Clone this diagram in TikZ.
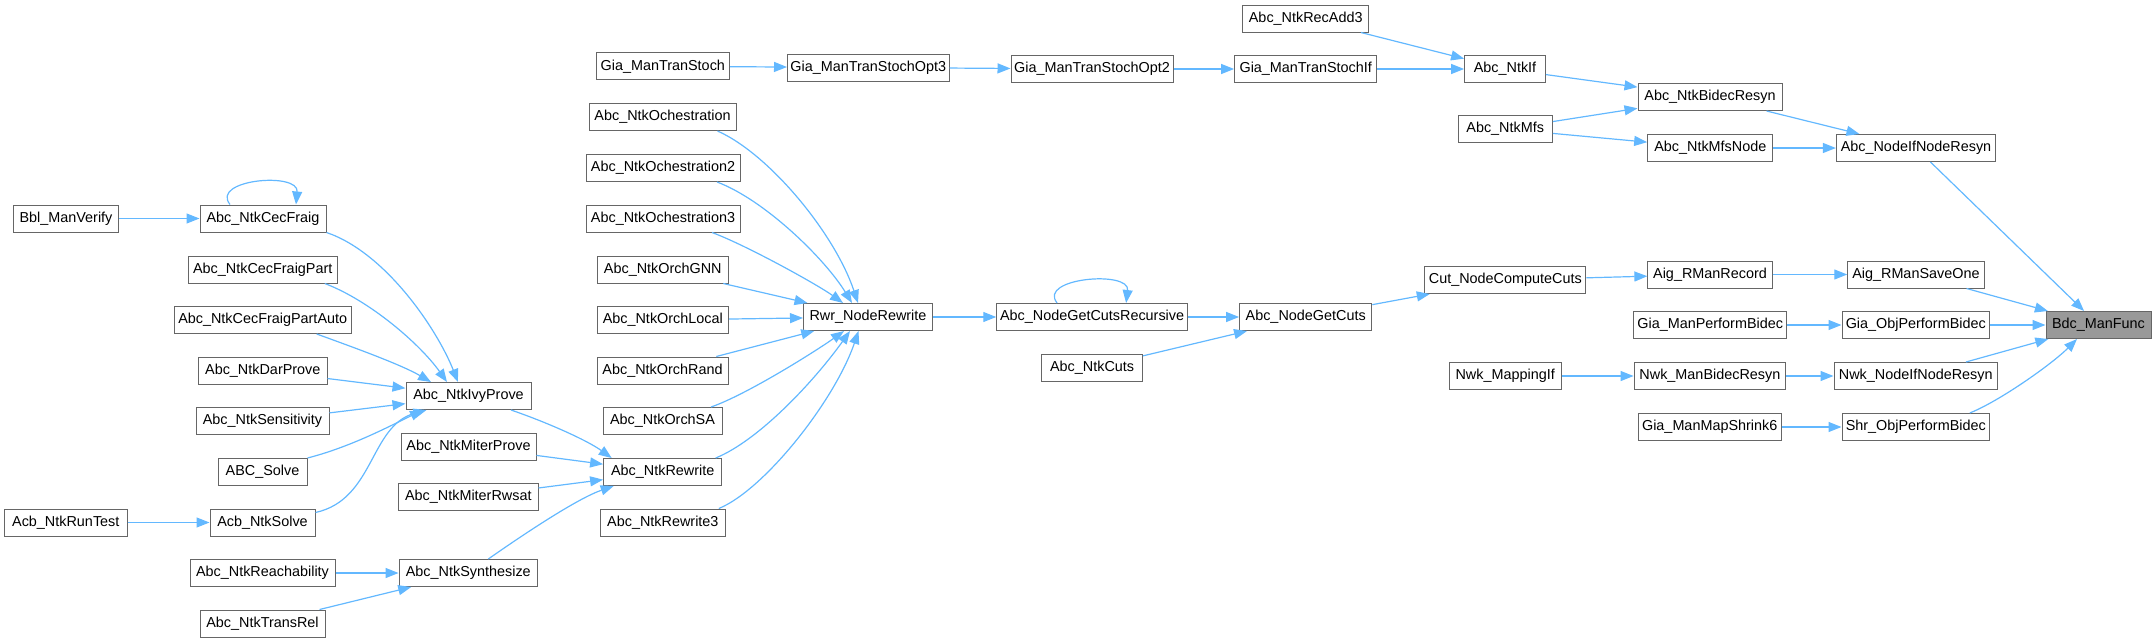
\documentclass[tikz,border=0pt]{standalone}
\usepackage{fontspec}
\setmainfont{Liberation Sans}
\usetikzlibrary{arrows.meta,calc}
\definecolor{edgec}{HTML}{63B8FF}
\definecolor{boxc}{HTML}{666666}
\definecolor{rootc}{HTML}{999999}
\begin{document}
\begin{tikzpicture}[x=0.5pt,y=-0.5pt,
  fn/.style={draw=boxc, line width=0.5pt, fill=white, minimum height=13.5pt, inner xsep=1pt, inner ysep=0pt, font=\fontsize{7.2}{8.5}\selectfont, anchor=center},
  ed/.style={draw=edgec, line width=0.6pt, -{Triangle[length=6.5pt,width=5pt]}}]
\useasboundingbox (0,0) rectangle (2156,643);
% column 1
\node[fn, minimum width=52.8pt] (bbl) at (66,218.5) {Bbl\_ManVerify};
\node[fn, minimum width=61.2pt] (acbr) at (65.8,522.5) {Acb\_NtkRunTest};
% column 2
\node[fn, minimum width=63pt] (cec) at (263,218.5) {Abc\_NtkCecFraig};
\node[fn, minimum width=74.75pt] (cecp) at (262.75,269.5) {Abc\_NtkCecFraigPart};
\node[fn, minimum width=88.7pt] (cecpa) at (262.7,320) {Abc\_NtkCecFraigPartAuto};
\node[fn, minimum width=64.2pt] (dar) at (262.8,370.5) {Abc\_NtkDarProve};
\node[fn, minimum width=66.5pt] (sens) at (262.5,421) {Abc\_NtkSensitivity};
\node[fn, minimum width=44.5pt] (abcs) at (262.5,472) {ABC\_Solve};
\node[fn, minimum width=52.5pt] (acbs) at (262.5,522.5) {Acb\_NtkSolve};
\node[fn, minimum width=72.5pt] (reach) at (262.5,573) {Abc\_NtkReachability};
\node[fn, minimum width=62.5pt] (trans) at (262.5,623.5) {Abc\_NtkTransRel};
% column 3
\node[fn, minimum width=62.5pt] (ivy) at (468.5,396) {Abc\_NtkIvyProve};
\node[fn, minimum width=67.5pt] (mprove) at (468.5,446.5) {Abc\_NtkMiterProve};
\node[fn, minimum width=69.7pt] (mrw) at (468.3,497) {Abc\_NtkMiterRwsat};
\node[fn, minimum width=69.25pt] (synth) at (468.3,573) {Abc\_NtkSynthesize};
% column 4
\node[fn, minimum width=66.8pt] (ts) at (662.8,66.3) {Gia\_ManTranStoch};
\node[fn, minimum width=73.5pt] (o1) at (662.5,117) {Abc\_NtkOchestration};
\node[fn, minimum width=77pt] (o2) at (663,168) {Abc\_NtkOchestration2};
\node[fn, minimum width=77pt] (o3) at (663,218.5) {Abc\_NtkOchestration3};
\node[fn, minimum width=65.25pt] (gnn) at (662.75,269.5) {Abc\_NtkOrchGNN};
\node[fn, minimum width=65.8pt] (local) at (662.8,320) {Abc\_NtkOrchLocal};
\node[fn, minimum width=65.5pt] (rand) at (662.5,370.5) {Abc\_NtkOrchRand};
\node[fn, minimum width=59.5pt] (sa) at (662.5,421) {Abc\_NtkOrchSA};
\node[fn, minimum width=59.1pt] (rw) at (662.7,472) {Abc\_NtkRewrite};
\node[fn, minimum width=62.15pt] (rw3) at (662.85,522.5) {Abc\_NtkRewrite3};
% column 5
\node[fn, minimum width=80.75pt] (opt3) at (868.25,67.5) {Gia\_ManTranStochOpt3};
\node[fn, minimum width=64.5pt] (rwr) at (868,317) {Rwr\_NodeRewrite};
% column 6
\node[fn, minimum width=81pt] (opt2) at (1092,69) {Gia\_ManTranStochOpt2};
\node[fn, minimum width=95.35pt] (rec) at (1092.1,317) {Abc\_NodeGetCutsRecursive};
\node[fn, minimum width=50.35pt] (ncuts) at (1092.1,368) {Abc\_NtkCuts};
% column 7
\node[fn, minimum width=63.25pt] (rec3) at (1305.7,18.5) {Abc\_NtkRecAdd3};
\node[fn, minimum width=71.1pt] (tsif) at (1305.7,69) {Gia\_ManTranStochIf};
\node[fn, minimum width=66.1pt] (gcuts) at (1305.7,317) {Abc\_NodeGetCuts};
% column 8
\node[fn, minimum width=40.4pt] (nif) at (1505,69) {Abc\_NtkIf};
\node[fn, minimum width=47.2pt] (mfs) at (1505.2,129) {Abc\_NtkMfs};
\node[fn, minimum width=80.65pt] (cut) at (1505.3,280) {Cut\_NodeComputeCuts};
\node[fn, minimum width=56.15pt] (nmap) at (1505.2,376) {Nwk\_MappingIf};
% column 9
\node[fn, minimum width=72pt] (bres) at (1710,97) {Abc\_NtkBidecResyn};
\node[fn, minimum width=62.65pt] (mfsn) at (1710.3,148) {Abc\_NtkMfsNode};
\node[fn, minimum width=62.15pt] (rrec) at (1710,274.5) {Aig\_RManRecord};
\node[fn, minimum width=76.5pt] (gpb) at (1710.2,325) {Gia\_ManPerformBidec};
\node[fn, minimum width=75.85pt] (nmbr) at (1709.9,376) {Nwk\_ManBidecResyn};
\node[fn, minimum width=71.35pt] (shr6) at (1709.7,427) {Gia\_ManMapShrink6};
% column 10
\node[fn, minimum width=79.6pt] (nifr) at (1916,148) {Abc\_NodeIfNodeResyn};
\node[fn, minimum width=68.15pt] (save) at (1915.9,274.5) {Aig\_RManSaveOne};
\node[fn, minimum width=73.75pt] (gob) at (1915.75,325) {Gia\_ObjPerformBidec};
\node[fn, minimum width=81.75pt] (nnifr) at (1915.75,376) {Nwk\_NodeIfNodeResyn};
\node[fn, minimum width=73.75pt] (shr) at (1915.75,427) {Shr\_ObjPerformBidec};
% root
\node[fn, fill=rootc, minimum width=52.5pt] (bdc) at (2098.5,325) {Bdc\_ManFunc};

% edges, left part
\draw[ed] (bbl) -- (cec);
\draw[ed] ($(cec.north)+(-33,0)$) .. controls +(-20,-25) and +(3,-33) .. ($(cec.north)+(33,0)$);
\draw[ed] (cec.south east) .. controls +(59,20) and +(-21,-53) .. ($(ivy.north)+(-10.5,0)$);
\draw[ed] ($(cecp.south)+(62,0)$) .. controls +(45,17) and +(-27,-38) .. ($(ivy.north)+(-21.5,0)$);
\draw[ed] ($(cecpa.south)+(54,0)$) .. controls +(33,12) and +(-31,-18) .. ($(ivy.north)+(-37.5,0)$);
\draw[ed] (dar) -- (ivy);
\draw[ed] (sens) -- (ivy);
\draw[ed] (abcs.north east) .. controls +(43,-11) and +(-33,16) .. ($(ivy.south)+(-45.5,0)$);
\draw[ed] ($(acbs.north east)+(0,4)$) .. controls +(59,-13) and +(-57,16) .. ($(ivy.south)+(-42,0)$);
\draw[ed] (acbr) -- (acbs);
\draw[ed] (reach) -- (synth);
\draw[ed] (trans) -- (synth);
\draw[ed] ($(ivy.south)+(42.5,0)$) .. controls +(35,12) and +(-25,-18) .. ($(rw.north)+(-51,0)$);
\draw[ed] (mprove) -- (rw);
\draw[ed] (mrw) -- (rw);
\draw[ed] ($(synth.north)+(20,0)$) .. controls +(40,-28) and +(-35,12) .. ($(rw.south)+(-49,0)$);
% into Rwr_NodeRewrite
\draw[ed] ($(o1.south)+(55,0)$) .. controls +(52,23) and +(-23,-69) .. ($(rwr.north)+(-10,0)$);
\draw[ed] ($(o2.south)+(54,0)$) .. controls +(48,18) and +(-27,-44) .. ($(rwr.north)+(-16,0)$);
\draw[ed] ($(o3.south)+(49,0)$) .. controls +(35,13) and +(-25,-18) .. ($(rwr.north)+(-25,0)$);
\draw[ed] (gnn) -- (rwr);
\draw[ed] (local) -- (rwr);
\draw[ed] (rand) -- (rwr);
\draw[ed] ($(sa.north)+(48.5,0)$) .. controls +(35,-12) and +(-28,20) .. ($(rwr.south)+(-24,0)$);
\draw[ed] ($(rw.north)+(53,0)$) .. controls +(44,-18) and +(-35,49) .. ($(rwr.south)+(-18,0)$);
\draw[ed] ($(rw3.north)+(56,0)$) .. controls +(46,-19) and +(-23.5,69) .. ($(rwr.south)+(-9.5,0)$);
% top chain
\draw[ed] (ts) -- (opt3);
\draw[ed] (opt3) -- (opt2);
\draw[ed] (opt2) -- (tsif);
\draw[ed] (tsif) -- (nif);
\draw[ed] (rec3) -- (nif);
\draw[ed] (nif) -- (bres);
\draw[ed] (mfs) -- (bres);
\draw[ed] (mfs) -- (mfsn);
\draw[ed] (bres) -- (nifr);
\draw[ed] (mfsn) -- (nifr);
\draw[ed] (nifr) -- (bdc);
% middle chain
\draw[ed] (rwr) -- (rec);
\draw[ed] ($(rec.north)+(-35,0)$) .. controls +(-20,-25) and +(4,-33) .. ($(rec.north)+(34,0)$);
\draw[ed] (rec) -- (gcuts);
\draw[ed] (ncuts) -- (gcuts);
\draw[ed] (gcuts) -- (cut);
\draw[ed] (cut) -- (rrec);
\draw[ed] (rrec) -- (save);
\draw[ed] (save) -- (bdc);
\draw[ed] (gpb) -- (gob);
\draw[ed] (gob) -- (bdc);
\draw[ed] (nmap) -- (nmbr);
\draw[ed] (nmbr) -- (nnifr);
\draw[ed] (nnifr) -- (bdc);
\draw[ed] (shr6) -- (shr);
\draw[ed] ($(shr.north)+(54,0)$) .. controls +(30,-12) and +(-25,25) .. ($(bdc.south)+(-21.5,0)$);
\end{tikzpicture}
\end{document}
